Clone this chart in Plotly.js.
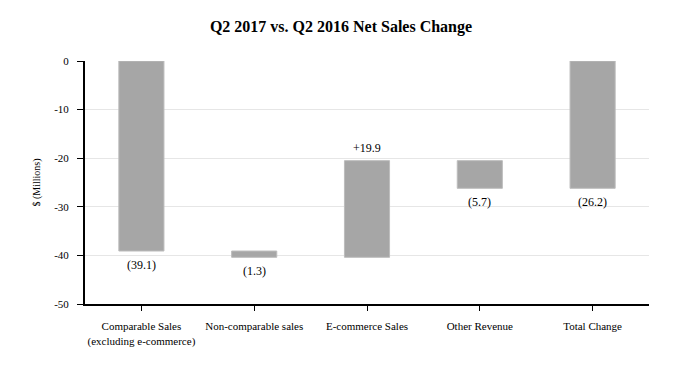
<!DOCTYPE html>
<html>
<head>
<meta charset="utf-8">
<script src="https://cdn.plot.ly/plotly-3.0.1.min.js"></script>
<style>html,body{margin:0;padding:0;background:#fff;}#chart{width:682px;height:370px;}</style>
</head>
<body>
<div id="chart"></div>
<script>
var categories = ["Comparable Sales<br>(excluding e-commerce)", "Non-comparable sales", "E-commerce Sales", "Other Revenue", "Total Change"];
var values = [-39.1, -1.3, 19.9, -5.7, -26.2];
var measures = ["relative", "relative", "relative", "relative", "total"];
var labels = ["(39.1)", "(1.3)", "+19.9", "(5.7)", "(26.2)"];
var yTicks = [0, -10, -20, -30, -40, -50];

var barColor = "#a6a6a6";
var font = "'Liberation Serif', 'Times New Roman', serif";

var trace = {
  type: "waterfall",
  x: categories,
  y: values,
  measure: measures,
  textinfo: "none",
  connector: {visible: false},
  increasing: {marker: {color: barColor, line: {color: "#bdbdbd", width: 1}}},
  decreasing: {marker: {color: barColor, line: {color: "#bdbdbd", width: 1}}},
  totals: {marker: {color: barColor, line: {color: "#bdbdbd", width: 1}}},
  hoverinfo: "none"
};

// label annotations anchored at the end of each bar (computed from the data)
var annotations = [];
var running = 0;
for (var i = 0; i < values.length; i++) {
  var end;
  if (measures[i] === "total") { end = values[i]; } else { running += values[i]; end = running; }
  var up = values[i] > 0;
  annotations.push({
    x: categories[i], y: end, xref: "x", yref: "y",
    text: labels[i], showarrow: false,
    yanchor: up ? "bottom" : "top",
    yshift: up ? 4 : -5,
    font: {family: font, size: 12, color: "#000"}
  });
}

var layout = {
  width: 682,
  height: 370,
  margin: {l: 85, r: 33, t: 61, b: 66},
  paper_bgcolor: "#fff",
  plot_bgcolor: "#fff",
  showlegend: false,
  waterfallgap: 0.6,
  font: {family: font, size: 11, color: "#000"},
  title: {text: "<b>Q2 2017 vs. Q2 2016 Net Sales Change</b>", font: {family: font, size: 16, color: "#000"}, x: 0.5, xanchor: "center", y: 0.93, yanchor: "middle"},
  annotations: annotations,
  xaxis: {
    showline: true, linecolor: "#000", linewidth: 2,
    ticks: "outside", ticklen: 5, tickcolor: "#000", tickwidth: 1,
    ticklabelstandoff: 6,
    tickfont: {family: font, size: 11, color: "#000"},
    showgrid: false, zeroline: false
  },
  yaxis: {
    range: [-50, 0],
    tickvals: yTicks,
    ticktext: yTicks.map(String),
    showline: true, linecolor: "#000", linewidth: 2,
    ticks: "outside", ticklen: 6, tickcolor: "#000", tickwidth: 1,
    ticklabelstandoff: 6,
    tickfont: {family: font, size: 11, color: "#000"},
    showgrid: true, gridcolor: "#e6e6e6", gridwidth: 1,
    zeroline: false,
    title: {text: "$ (Millions)", font: {family: font, size: 10, color: "#000"}, standoff: 12}
  }
};

Plotly.newPlot("chart", [trace], layout, {displayModeBar: false, staticPlot: true});
</script>
</body>
</html>
